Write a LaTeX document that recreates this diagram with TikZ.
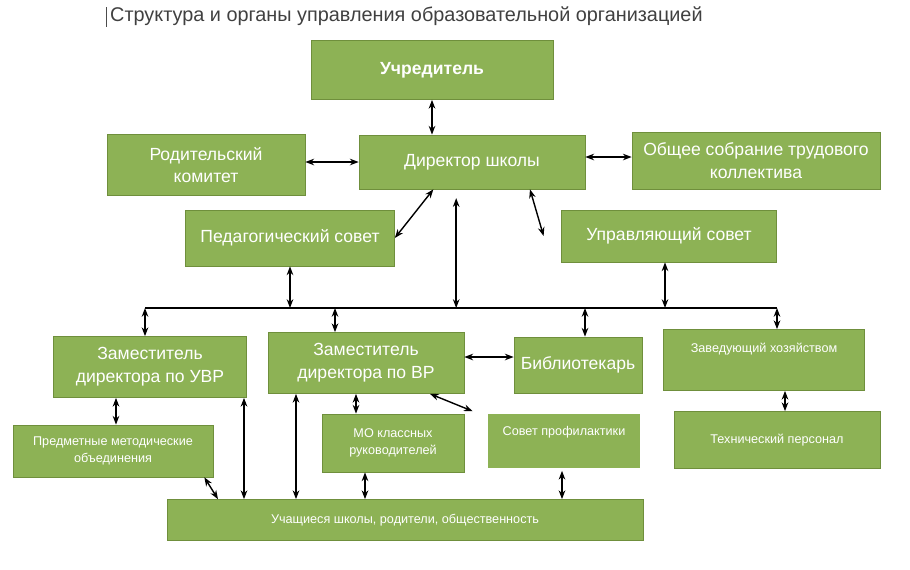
\documentclass[tikz,border=0pt]{standalone}
\usepackage{fontspec}
\setmainfont{Liberation Sans}
\usetikzlibrary{arrows.meta}
\definecolor{leaf}{HTML}{8DB255}
\definecolor{leafdark}{HTML}{6F8F3C}
\tikzset{box/.style={rectangle, draw=leafdark, fill=leaf, text=white,
                    align=center, font=\fontsize{10}{13}\selectfont},
         tiny/.style={font=\fontsize{7.2}{10}\selectfont},
         link/.style={{Stealth[length=5pt]}-{Stealth[length=5pt]}, thick}}
\begin{document}
\begin{tikzpicture}[x=0.02cm, y=-0.02cm]
    \useasboundingbox (0,0) rectangle (910,569);
    \node (title) [anchor=west, text=black!75, font=\fontsize{11.3}{13}\selectfont] at (104,16)
        {Структура и органы управления образовательной организацией};
    \draw[black!70] (106,7) -- (106,27);
    \node (founder) [box, minimum width=4.84cm, minimum height=1.18cm] at (432,70) {\textbf{Учредитель}};
    \node (parents) [box, minimum width=3.96cm, minimum height=1.22cm] at (206,165) {Родительский\\комитет};
    \node (director) [box, minimum width=4.52cm, minimum height=1.08cm] at (472,162) {Директор школы};
    \node (staff) [box, minimum width=4.96cm, minimum height=1.14cm] at (756,161) {Общее собрание трудового\\коллектива};
    \node (pedsovet) [box, minimum width=4.18cm, minimum height=1.12cm] at (290,238) {Педагогический совет};
    \node (board) [box, minimum width=4.3cm, minimum height=1.04cm] at (669,236) {Управляющий совет};
    \node (uvr) [box, minimum width=3.86cm, minimum height=1.22cm] at (150,367) {Заместитель\\директора по УВР};
    \node (vr) [box, minimum width=3.92cm, minimum height=1.22cm] at (366,363) {Заместитель\\директора по ВР};
    \node (library) [box, minimum width=2.56cm, minimum height=1.12cm] at (578,365) {Библиотекарь};
    \node (house) [box, tiny, minimum width=4.02cm, minimum height=1.22cm, text depth=14pt] at (764,360) {Заведующий хозяйством};
    \node (subjects) [box, tiny, minimum width=4cm, minimum height=1.04cm] at (113,451) {Предметные методические\\объединения};
    \node (classmo) [box, tiny, minimum width=2.84cm, minimum height=1.16cm] at (393,443) {МО классных\\руководителей};
    \node (prevent) [box, tiny, draw=white, line width=1.5pt, minimum width=3.1cm, minimum height=1.14cm,
                     text depth=12pt] at (564,441) {Совет профилактики};
    \node (techstaff) [box, tiny, minimum width=4.12cm, minimum height=1.14cm] at (777,440) {Технический персонал};
    \node (pupils) [box, tiny, minimum width=9.52cm, minimum height=0.82cm] at (405,520) {Учащиеся школы, родители, общественность};

    % bus
    \coordinate (busL) at (145,308);
    \coordinate (busR) at (777,308);
    \draw[thick] (busL) -- (busR);

    \draw[link] (founder) -- (founder.south |- director.north);
    \draw[link] (parents.east |- 0,162) -- (director.west |- 0,162);
    \draw[link] (director.east |- 0,157) -- (staff.west |- 0,157);
    \draw[link] ([xshift=-22]director.south) -- (pedsovet.east);
    \draw[link] ([xshift=33]director.south) -- ([xshift=-10]board.west);
    \draw[link] ([xshift=-9,yshift=-5]director.south) -- ([xshift=-9]director.south |- busL);
    \draw[link] (pedsovet.south) -- (pedsovet.south |- busL);
    \draw[link] (board.south -| 665,0) -- (665,308);
    \draw[link] (busL) -- (busL |- uvr.north);
    \draw[link] (335,308) -- (vr.north -| 335,0);
    \draw[link] (585,308) -- (library.north -| 585,0);
    \draw[link] (busR) -- (busR |- house.north);

    \draw[link] (vr.east |- 0,357) -- (library.west |- 0,357);
    \draw[link] (uvr.south -| 116,0) -- (subjects.north -| 116,0);
    \draw[link] (house.south -| 785,0) -- (techstaff.north -| 785,0);
    \draw[link] (vr.south -| 356,0) -- (classmo.north -| 356,0);
    \draw[link] (vr.south -| 430,0) -- ([xshift=-52]prevent.north);
    \draw[link] ([xshift=52]subjects.south) -- (pupils.north -| 218,0);
    \draw[link] (uvr.south -| 244,0) -- (pupils.north -| 244,0);
    \draw[link] (vr.south -| 296,0) -- (pupils.north -| 296,0);
    \draw[link] (classmo.south -| 365,0) -- (pupils.north -| 365,0);
    \draw[link] (prevent.south -| 562,0) -- (pupils.north -| 562,0);
\end{tikzpicture}
\end{document}
